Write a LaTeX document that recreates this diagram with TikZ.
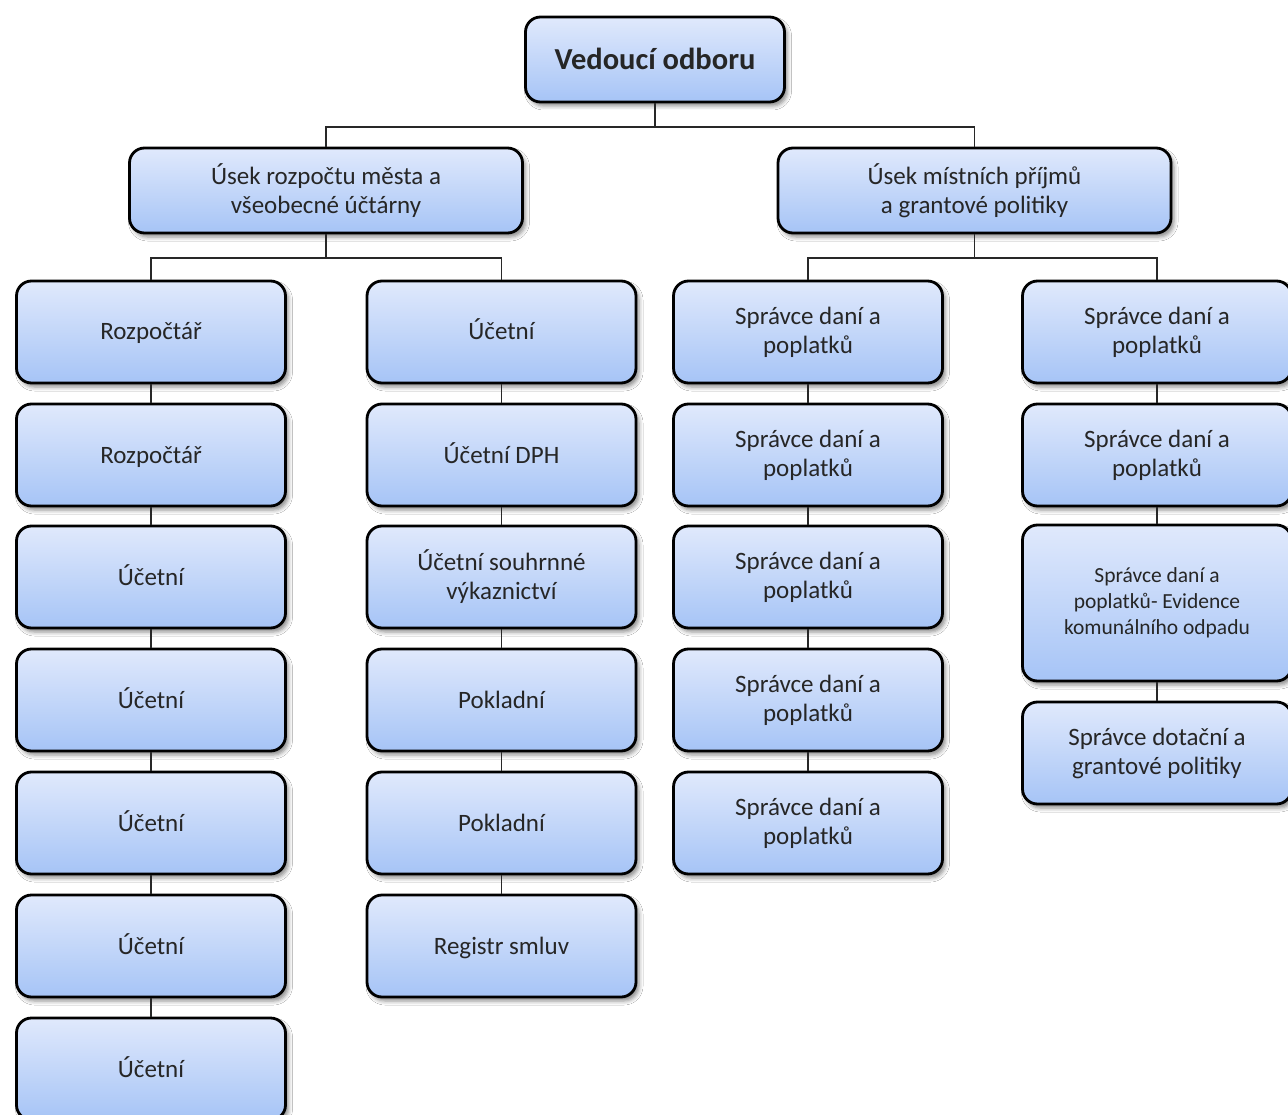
\documentclass[tikz,border=0pt]{standalone}
\usepackage{fontspec}
\setmainfont{Carlito}
\usetikzlibrary{shadows.blur}
\definecolor{boxtop}{RGB}{224,233,252}
\definecolor{boxbot}{RGB}{166,196,246}
\definecolor{textgray}{RGB}{38,38,38}
\definecolor{linegray}{RGB}{40,40,40}
\tikzset{
  unit/.style={draw=black, line width=2.8pt, rounded corners=15pt,
    top color=boxtop, bottom color=boxbot,
    minimum width=269pt, minimum height=102pt, align=center,
    text=textgray, font=\fontsize{25}{29}\selectfont,
    blur shadow={shadow xshift=3pt, shadow yshift=-4pt,
      shadow blur radius=4pt, shadow opacity=45}},
  % single-line labels: caps centred in the box
  oneline/.style={unit, text height=20pt, text depth=4pt},
  head/.style={unit, minimum width=259pt, minimum height=85pt,
    font=\fontsize{25}{28.5}\selectfont},
  chief/.style={unit, minimum width=259pt, minimum height=85pt,
    font=\bfseries\fontsize{30.5}{34}\selectfont,
    text height=24pt, text depth=4pt},
  link/.style={line width=1.6pt, draw=linegray}
}
\begin{document}
\begin{tikzpicture}[x=1pt, y=-1pt]
\useasboundingbox[fill=white] (0,0) rectangle (1288,1115);

% head of department
\node[chief] (top) at (655,59.5) {Vedoucí odboru};

% the two sections
\node[head, minimum width=393pt] (ls) at (326,190.5) {Úsek rozpočtu města a\\všeobecné účtárny};
\node[head, minimum width=393pt] (rs) at (974.5,190.5) {Úsek místních příjmů\\a grantové politiky};

% column 1
\node[oneline] (a1) at (151,332) {Rozpočtář};
\node[oneline] (a2) at (151,455) {Rozpočtář};
\node[oneline] (a3) at (151,577) {Účetní};
\node[oneline] (a4) at (151,700) {Účetní};
\node[oneline] (a5) at (151,823) {Účetní};
\node[oneline] (a6) at (151,946) {Účetní};
\node[oneline] (a7) at (151,1069) {Účetní};

% column 2
\node[oneline] (b1) at (501.5,332) {Účetní};
\node[oneline] (b2) at (501.5,455) {Účetní DPH};
\node[unit] (b3) at (501.5,577) {Účetní souhrnné\\výkaznictví};
\node[oneline] (b4) at (501.5,700) {Pokladní};
\node[oneline] (b5) at (501.5,823) {Pokladní};
\node[oneline] (b6) at (501.5,946) {Registr smluv};

% column 3
\node[unit] (c1) at (808,332) {Správce daní a\\poplatků};
\node[unit] (c2) at (808,455) {Správce daní a\\poplatků};
\node[unit] (c3) at (808,577) {Správce daní a\\poplatků};
\node[unit] (c4) at (808,700) {Správce daní a\\poplatků};
\node[unit] (c5) at (808,823) {Správce daní a\\poplatků};

% column 4
\node[unit] (d1) at (1157,332) {Správce daní a\\poplatků};
\node[unit] (d2) at (1157,455) {Správce daní a\\poplatků};
\node[unit, minimum height=156pt, font=\fontsize{21.5}{26}\selectfont] (d3) at (1157,603) {Správce daní a\\poplatků- Evidence\\komunálního odpadu};
\node[unit] (d4) at (1157,753) {Správce dotační a\\grantové politiky};

% bus lines
\coordinate (busT) at (655,127);
\coordinate (busL) at (326,258);
\coordinate (busR) at (974.5,258);

\draw[link] (top.south) -- (busT);
\draw[link] (ls.north) |- (busT) -| (rs.north);

\draw[link] (ls.south) -- (busL);
\draw[link] (a1.north) |- (busL) -| (b1.north);
\draw[link] (rs.south) -- (busR);
\draw[link] (c1.north) |- (busR) -| (d1.north);

% links inside the columns
\draw[link] (a1) -- (a2);
\draw[link] (a2) -- (a3);
\draw[link] (a3) -- (a4);
\draw[link] (a4) -- (a5);
\draw[link] (a5) -- (a6);
\draw[link] (a6) -- (a7);

\draw[link] (b1) -- (b2);
\draw[link] (b2) -- (b3);
\draw[link] (b3) -- (b4);
\draw[link] (b4) -- (b5);
\draw[link] (b5) -- (b6);

\draw[link] (c1) -- (c2);
\draw[link] (c2) -- (c3);
\draw[link] (c3) -- (c4);
\draw[link] (c4) -- (c5);

\draw[link] (d1) -- (d2);
\draw[link] (d2) -- (d3);
\draw[link] (d3) -- (d4);
\end{tikzpicture}
\end{document}
